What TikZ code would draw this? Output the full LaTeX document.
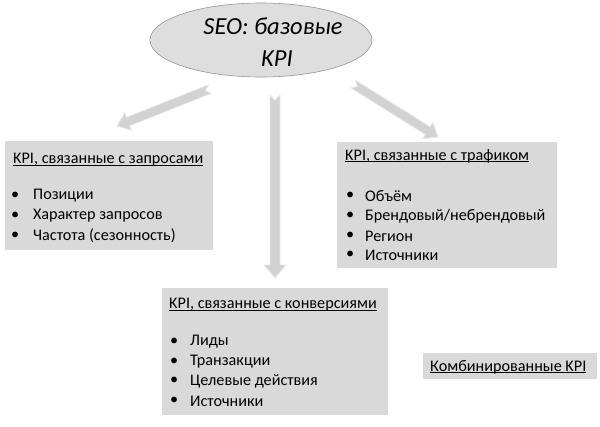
\documentclass[tikz,border=0pt]{standalone}
\usepackage{fontspec}
\setmainfont{Carlito}
\usetikzlibrary{calc,shapes.geometric}
\definecolor{boxfill}{RGB}{217,217,217}
\definecolor{ellfill}{RGB}{222,222,222}
\definecolor{ellline}{RGB}{150,150,150}
\definecolor{arrfill}{RGB}{210,210,210}
\definecolor{arrline}{RGB}{232,232,232}
\newcommand\kul[1]{\setbox0\hbox{#1}\rlap{\rule[-1.6pt]{\wd0}{0.7pt}}\box0}
\tikzset{
  kbox/.style={draw=none, fill=boxfill, inner sep=0pt},
  ktitle/.style={anchor=west, inner sep=0pt, font=\fontsize{16.2}{19}\selectfont},
  kitem/.style={anchor=west, inner sep=0pt, font=\fontsize{16.2}{19}\selectfont},
  kell/.style={ellipse, draw=ellline, fill=ellfill, line width=0.6pt, inner sep=0pt},
  ktext/.style={inner sep=0pt, font=\fontsize{24.5}{28}\selectfont\itshape},
}
\newcommand\blockarr[5]{% tail, head, half shaft, half head, head length
  \coordinate (#1-base) at ($(#2)!#5!(#1)$);
  \filldraw[fill=arrfill, draw=arrline, line width=0.8pt, line join=miter]
    ($(#1)!#3!90:(#2)$) -- ($(#1)!5pt!(#2)$) -- ($(#1)!#3!-90:(#2)$)
    -- ($(#1-base)!#3!-90:(#2)$) -- ($(#1-base)!#4!-90:(#2)$)
    -- (#2)
    -- ($(#1-base)!#4!90:(#2)$) -- ($(#1-base)!#3!90:(#2)$) -- cycle;
}
\begin{document}
\begin{tikzpicture}[x=1pt,y=-1pt]
\useasboundingbox (0,0) rectangle (600,426);
\fill[white] (0,0) rectangle (600,426);

% ellipse
\node[kell, minimum width=222pt, minimum height=74pt] (seo) at (261,40) {};
\node[ktext] (seo1) at (273,26) {SEO: базовые};
\node[ktext] (seo2) at (277,59) {KPI};

% arrows
\coordinate (la-t) at (210,89);
\coordinate (la-h) at (117,126);
\coordinate (va-t) at (275,95);
\coordinate (va-h) at (275,278);
\coordinate (ra-t) at (353,84);
\coordinate (ra-h) at (438,137);
\blockarr{la-t}{la-h}{4.5pt}{9.5pt}{12pt}
\blockarr{va-t}{va-h}{5pt}{11pt}{13pt}
\blockarr{ra-t}{ra-h}{4.5pt}{9.5pt}{12pt}

% left box
\node[kbox, minimum width=208pt, minimum height=109pt] (qbox) at (109,195.5) {};
\node[ktitle] (qt) at (13,160) {\kul{KPI, связанные с запросами}};
\node[kitem] (q0) at (11,196) {•};
\node[kitem] (q1) at (33,196) {Позиции};
\node[kitem] (q2b) at (11,216) {•};
\node[kitem] (q2) at (33,216) {Характер запросов};
\node[kitem] (q3b) at (11,236) {•};
\node[kitem] (q3) at (33,236) {Частота (сезонность)};

% right box
\node[kbox, minimum width=220pt, minimum height=126pt] (tbox) at (447,205) {};
\node[ktitle] (tt) at (345,156) {\kul{KPI, связанные с трафиком}};
\node[kitem] (t1b) at (346,196) {•};
\node[kitem] (t1) at (365,196) {Объём};
\node[kitem] (t2b) at (346,216) {•};
\node[kitem] (t2) at (365,216) {Брендовый/небрендовый};
\node[kitem] (t3b) at (346,236) {•};
\node[kitem] (t3) at (365,236) {Регион};
\node[kitem] (t4b) at (346,255) {•};
\node[kitem] (t4) at (365,255) {Источники};

% bottom box
\node[kbox, minimum width=226pt, minimum height=127pt] (cbox) at (275,351.5) {};
\node[ktitle] (ct) at (169,305) {\kul{KPI, связанные с конверсиями}};
\node[kitem] (c1b) at (170,342) {•};
\node[kitem] (c1) at (190,342) {Лиды};
\node[kitem] (c2b) at (170,362) {•};
\node[kitem] (c2) at (190,362) {Транзакции};
\node[kitem] (c3b) at (170,381) {•};
\node[kitem] (c3) at (190,381) {Целевые действия};
\node[kitem] (c4b) at (170,401) {•};
\node[kitem] (c4) at (190,401) {Источники};

% combined
\node[kbox, minimum width=174pt, minimum height=26pt] (kbox2) at (510,366) {};
\node[ktitle] (kt) at (430,367) {\kul{Комбинированные KPI}};
\end{tikzpicture}
\end{document}
